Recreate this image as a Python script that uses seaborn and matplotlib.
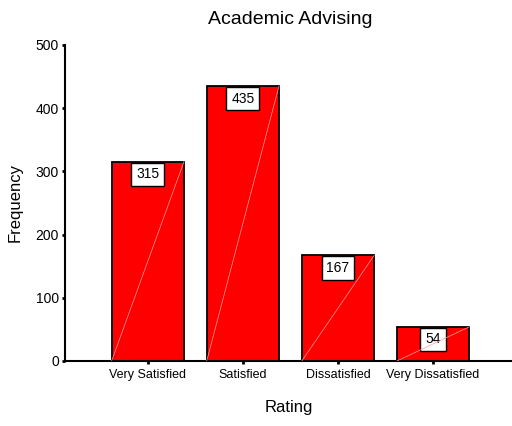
import matplotlib
matplotlib.use("Agg")
import matplotlib.pyplot as plt
import seaborn as sns
import pandas as pd

ratings = ["Very Satisfied", "Satisfied", "Dissatisfied", "Very Dissatisfied"]
frequencies = [315, 435, 167, 54]
y_ticks = [0, 100, 200, 300, 400, 500]

sns.set_style("white")
plt.rcParams["font.family"] = ["Liberation Sans", "DejaVu Sans"]
plt.rcParams["text.color"] = "black"
plt.rcParams["axes.labelcolor"] = "black"
plt.rcParams["xtick.color"] = "black"
plt.rcParams["ytick.color"] = "black"

df = pd.DataFrame({"Rating": ratings, "Frequency": frequencies})

fig = plt.figure(figsize=(5.12, 4.26), dpi=100)
ax = fig.add_axes([65 / 512, 65 / 426, 447 / 512, 316 / 426])

sns.barplot(data=df, x="Rating", y="Frequency", order=ratings,
            color="#ff0000", saturation=1, edgecolor="black",
            linewidth=1.3, width=0.76, ax=ax, zorder=2)

# diagonal accent inside each bar, bottom-left to top-right
for patch in ax.patches:
    x0 = patch.get_x()
    w = patch.get_width()
    h = patch.get_height()
    ax.plot([x0, x0 + w], [0, h], color="#ffa0a0", lw=0.5, zorder=5)

# value boxes under each bar top
for i, v in enumerate(frequencies):
    ax.annotate(str(v), xy=(i, v), xytext=(0, -4.0), textcoords="offset points",
                ha="center", va="top", fontsize=10, zorder=4,
                bbox=dict(boxstyle="square,pad=0.35", fc="white", ec="black", lw=1))

ax.set_ylim(0, 500)
ax.set_xlim(-0.87, 3.83)
ax.set_yticks(y_ticks)
ax.set_yticklabels([str(t) for t in y_ticks], fontsize=10)
ax.tick_params(axis="x", labelsize=9, length=2.5, width=2, pad=3, direction="out", bottom=True)
ax.tick_params(axis="y", length=2.5, width=2, pad=2, direction="out", left=True)

for s in ["top", "right"]:
    ax.spines[s].set_visible(False)
for s in ["left", "bottom"]:
    ax.spines[s].set_color("black")
    ax.spines[s].set_linewidth(1.5)

ax.set_xlabel("Rating", fontsize=12, labelpad=14)
ax.set_ylabel("Frequency", fontsize=12, labelpad=9)
fig.text(290 / 512, 1 - 20 / 426, "Academic Advising", ha="center", va="center", fontsize=14)

fig.savefig("out.png", dpi=100)
